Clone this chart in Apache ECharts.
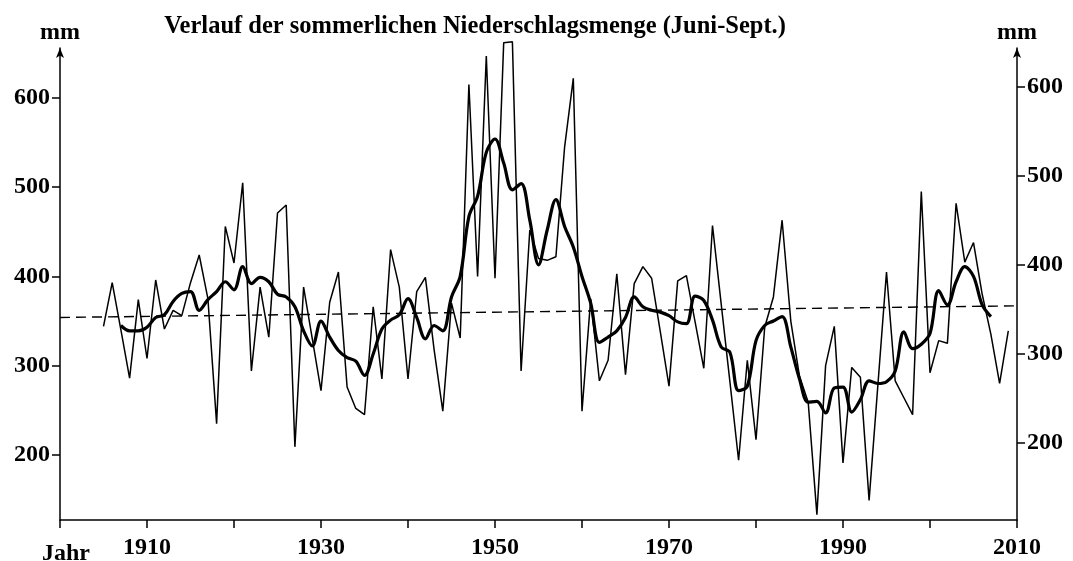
<!DOCTYPE html>
<html>
<head>
<meta charset="utf-8">
<script src="https://cdn.jsdelivr.net/npm/echarts@6/dist/echarts.min.js"></script>
<style>
html,body{margin:0;padding:0;background:#fff;}
#chart{width:1073px;height:561px;}
</style>
</head>
<body>
<div id="chart"></div>
<script>
// ---- data ----
const titleText = 'Verlauf der sommerlichen Niederschlagsmenge (Juni-Sept.)';
const yUnit = 'mm';
const xUnit = 'Jahr';

const annualYears = [1905,1906,1907,1908,1909,1910,1911,1912,1913,1914,1915,1916,1917,1918,1919,1920,
  1921,1922,1923,1924,1925,1926,1927,1928,1929,1930,1931,1932,1933,1934,1935,1936,1937,1938,1939,1940,
  1941,1942,1943,1944,1945,1946,1947,1948,1949,1950,1951,1952,1953,1954,1955,1956,1957,1958,1959,1960,
  1961,1962,1963,1964,1965,1966,1967,1968,1969,1970,1971,1972,1973,1974,1975,1976,1977,1978,1979,1980,
  1981,1982,1983,1984,1985,1986,1987,1988,1989,1990,1991,1992,1993,1994,1995,1996,1997,1998,1999,2000,
  2001,2002,2003,2004,2005,2006,2007,2008,2009];
const annualValues = [344,393,340,286,374,308,396,341,362,356,393,424,375,235,456,415,
  505,294,388,332,471,480,209,388,330,272,371,405,276,252,245,366,285,430,388,285,
  383,399,318,249,370,331,615,400,647,398,662,663,294,452,420,418,422,545,622,249,
  375,283,306,403,290,392,411,398,338,277,395,401,349,297,457,369,282,194,306,217,
  343,377,463,350,288,259,133,300,344,191,298,287,149,277,405,283,264,245,495,292,
  328,325,482,416,438,380,335,280,339];

const smoothYears = [1907,1908,1909,1910,1911,1912,1913,1914,1915,1916,1917,1918,1919,1920,
  1921,1922,1923,1924,1925,1926,1927,1928,1929,1930,1931,1932,1933,1934,1935,1936,1937,1938,1939,1940,
  1941,1942,1943,1944,1945,1946,1947,1948,1949,1950,1951,1952,1953,1954,1955,1956,1957,1958,1959,1960,
  1961,1962,1963,1964,1965,1966,1967,1968,1969,1970,1971,1972,1973,1974,1975,1976,1977,1978,1979,1980,
  1981,1982,1983,1984,1985,1986,1987,1988,1989,1990,1991,1992,1993,1994,1995,1996,1997,1998,1999,2000,
  2001,2002,2003,2004,2005,2006,2007];
const smoothValues = [345,339,339,343,354,357,372,381,383,362,374,383,394,385,
  411,392,399,394,380,377,366,339,322,350,332,317,309,305,289,313,341,351,357,375,
  354,330,345,339,377,400,467,490,539,554,527,497,504,463,413,452,486,456,433,400,
  370,326,332,339,354,377,366,362,360,356,349,347,378,373,351,321,315,272,277,328,
  345,350,355,321,285,259,260,247,275,276,248,262,283,280,282,294,338,319,324,336,
  384,368,394,411,400,368,355];

const trendYears = [1900, 2010];
const trendValues = [354, 367];

const xTickLabels = [1910, 1930, 1950, 1970, 1990, 2010];
const yTickLabels = [200, 300, 400, 500, 600];

// ---- chart ----
const pairs = (xs, ys) => xs.map((x, i) => [x, ys[i]]);
const FONT = 'Liberation Serif';
const BLACK = '#000';
const LABEL_SIZE = 24;

const chart = echarts.init(document.getElementById('chart'), null, {renderer: 'canvas'});
chart.setOption({
  animation: false,
  backgroundColor: '#fff',
  title: [
    {text: titleText, left: 470, top: 9, textAlign: 'center',
     textStyle: {fontFamily: FONT, fontWeight: 'bold', fontSize: 24.5, color: BLACK}},
    {text: xUnit, left: 37, top: 537,
     textStyle: {fontFamily: FONT, fontWeight: 'bold', fontSize: LABEL_SIZE, color: BLACK}}
  ],
  grid: {left: 60, right: 56, top: 48, bottom: 41, containLabel: false},
  xAxis: {
    type: 'value', min: 1900, max: 2010, interval: 10,
    axisLine: {show: true, lineStyle: {color: BLACK, width: 1.5}},
    axisTick: {show: true, length: 8, lineStyle: {color: BLACK, width: 1.5}},
    axisLabel: {customValues: xTickLabels, margin: 16, color: BLACK,
      formatter: v => String(v),
      fontFamily: FONT, fontWeight: 'bold', fontSize: LABEL_SIZE},
    splitLine: {show: false}
  },
  yAxis: [
    {
      type: 'value', min: 127, max: 656, position: 'left',
      name: yUnit, nameLocation: 'end', nameGap: 3,
      nameTextStyle: {fontFamily: FONT, fontWeight: 'bold', fontSize: LABEL_SIZE, color: BLACK, align: 'center'},
      axisLine: {show: true, symbol: ['none', 'arrow'], symbolSize: [6, 10],
        lineStyle: {color: BLACK, width: 1.5}},
      axisTick: {show: true, length: 8, customValues: yTickLabels, lineStyle: {color: BLACK, width: 1.5}},
      axisLabel: {customValues: yTickLabels, margin: 10, color: BLACK,
        formatter: v => String(v),
        fontFamily: FONT, fontWeight: 'bold', fontSize: LABEL_SIZE},
      splitLine: {show: false}
    },
    {
      type: 'value', min: 113.5, max: 643.8, position: 'right',
      name: yUnit, nameLocation: 'end', nameGap: 3,
      nameTextStyle: {fontFamily: FONT, fontWeight: 'bold', fontSize: LABEL_SIZE, color: BLACK, align: 'center'},
      axisLine: {show: true, symbol: ['none', 'arrow'], symbolSize: [6, 10],
        lineStyle: {color: BLACK, width: 1.5}},
      axisTick: {show: true, length: 8, customValues: yTickLabels, lineStyle: {color: BLACK, width: 1.5}},
      axisLabel: {customValues: yTickLabels, margin: 10, color: BLACK,
        formatter: v => String(v),
        fontFamily: FONT, fontWeight: 'bold', fontSize: LABEL_SIZE},
      splitLine: {show: false}
    }
  ],
  series: [
    {
      name: 'trend', type: 'line', yAxisIndex: 0, data: pairs(trendYears, trendValues),
      showSymbol: false, symbol: 'none', silent: true, clip: false,
      lineStyle: {color: BLACK, width: 1.4, type: [10, 6]}
    },
    {
      name: 'annual', type: 'line', yAxisIndex: 0, data: pairs(annualYears, annualValues),
      showSymbol: false, symbol: 'none', clip: false,
      lineStyle: {color: BLACK, width: 1.5}
    },
    {
      name: 'smoothed', type: 'line', yAxisIndex: 0, data: pairs(smoothYears, smoothValues),
      showSymbol: false, symbol: 'none', clip: false, smooth: 0.35,
      lineStyle: {color: BLACK, width: 3.2}
    }
  ]
});
</script>
</body>
</html>
